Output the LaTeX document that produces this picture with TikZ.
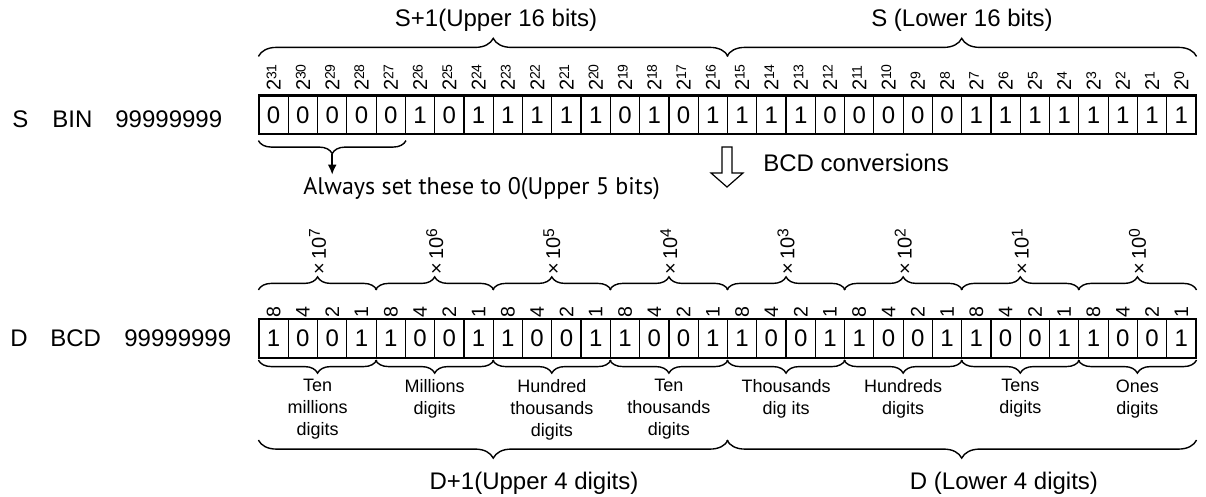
\documentclass[tikz,border=0pt]{standalone}
\usepackage{fontspec}
\setmainfont{Liberation Sans}
\newfontfamily\altfont{PT Sans}
\usetikzlibrary{decorations.pathreplacing,arrows.meta,calc}
\newcommand\myexp[3]{\raisebox{#2}{\fontsize{#3}{8}\selectfont #1}}
\begin{document}
\begin{tikzpicture}[x=0.5pt,y=-0.5pt,
  cell/.style={draw,line width=0.6pt,minimum width=14.64pt,minimum height=19pt,inner sep=0pt,font=\fontsize{12}{14}\selectfont},
  explbl/.style={rotate=90,anchor=west,inner sep=0pt,font=\fontsize{10}{10}\selectfont},
  wlbl/.style={rotate=90,anchor=west,inner sep=0pt,font=\fontsize{9.8}{10}\selectfont},
  pwr/.style={rotate=90,anchor=west,inner sep=0pt,font=\fontsize{10}{10}\selectfont},
  grp/.style={anchor=north,inner sep=0pt,align=center,font=\fontsize{9}{11}\selectfont},
  big/.style={inner sep=0pt,font=\fontsize{12}{14}\selectfont},
  bigbrace/.style={decorate,decoration={brace,amplitude=9pt},line width=0.7pt},
  smallbrace/.style={decorate,decoration={brace,amplitude=6.5pt},line width=0.7pt},
  mirrorbrace/.style={decorate,decoration={brace,amplitude=6.5pt,mirror},line width=0.7pt},
  bigmirror/.style={decorate,decoration={brace,amplitude=9pt,mirror},line width=0.7pt},
  frame/.style={draw,line width=0.9pt}
]
\useasboundingbox (0,0) rectangle (1206,497);

% ---------- S row ----------
\node[big,anchor=base west] (sS) at (12,128) {S};
\node[big,anchor=base west] (sBIN) at (52,128) {BIN};
\node[big,anchor=base west] (sNum) at (115,128) {99999999};

\foreach \b [count=\i from 0] in {0,0,0,0,0,1,0,1,1,1,1,1,0,1,0,1,1,1,1,0,0,0,0,0,1,1,1,1,1,1,1,1} {
  \node[cell] (t\i) at ({259+29.28*(\i+0.5)},115) {\b};
  \pgfmathtruncatemacro\n{31-\i}
  \node[explbl] (e\i) at ([yshift=2pt]t\i.north) {2\myexp{\n}{2.2pt}{7}};
}
\draw[frame] (t0.north west) rectangle (t31.south east);

\draw[bigbrace] ([yshift=19.5pt]t0.north west) -- ([yshift=19.5pt]t15.north east);
\draw[bigbrace] ([yshift=19.5pt]t16.north west) -- ([yshift=19.5pt]t31.north east);
\node[big] (upS) at (496,20) {S+1(Upper 16 bits)};
\node[big] (loS) at (962,20) {S (Lower 16 bits)};

% upper 5 bits
\draw[mirrorbrace] ([yshift=-3pt]t0.south west) -- ([yshift=-3pt]t4.south east);
\coordinate (ztip) at ([yshift=-9.5pt]$(t0.south west)!0.5!(t4.south east)$);
\coordinate (zend) at ([yshift=-20pt]$(t0.south west)!0.5!(t4.south east)$);
\draw[-{Latex[length=5pt,width=4.5pt]},line width=0.8pt] (ztip) -- (zend);
\node[inner sep=0pt,anchor=base west,font=\altfont\fontsize{12}{14}\selectfont] (zero) at (303,195) {Always set these to 0(Upper 5 bits)};

% BCD conversion arrow
\draw[line width=0.6pt,fill=white] (722,147) -- (732,147) -- (732,173) -- (743,173) -- (727,187) -- (711,173) -- (722,173) -- cycle;
\node[big,anchor=base west] (conv) at (763,172) {BCD conversions};

% ---------- D row ----------
\node[big,anchor=base west] (dD) at (10,347) {D};
\node[big,anchor=base west] (dBCD) at (50,347) {BCD};
\node[big,anchor=base west] (dNum) at (124,347) {99999999};

\foreach \b/\w [count=\i from 0] in {1/8,0/4,0/2,1/1,1/8,0/4,0/2,1/1,1/8,0/4,0/2,1/1,1/8,0/4,0/2,1/1,1/8,0/4,0/2,1/1,1/8,0/4,0/2,1/1,1/8,0/4,0/2,1/1,1/8,0/4,0/2,1/1} {
  \node[cell] (b\i) at ({259+29.28*(\i+0.5)},338.5) {\b};
  \node[wlbl] (w\i) at ([yshift=0.5pt]b\i.north) {\w};
}
\draw[frame] (b0.north west) rectangle (b31.south east);

\foreach \g/\p/\lab in {0/7/{Ten\\millions\\digits},1/6/{Millions\\digits},2/5/{Hundred\\thousands\\digits},3/4/{Ten\\thousands\\digits},4/3/{Thousands\\dig its},5/2/{Hundreds\\digits},6/1/{Tens\\digits},7/0/{Ones\\digits}} {
  \pgfmathtruncatemacro\s{4*\g}
  \pgfmathtruncatemacro\e{4*\g+3}
  \draw[smallbrace] ([yshift=14.5pt]b\s.north west) -- ([yshift=14.5pt]b\e.north east);
  \node[pwr] (x\g) at ([yshift=22pt]$(b\s.north west)!0.5!(b\e.north east)$) {\texttimes\,10\myexp{\p}{3pt}{7.8}};
  \draw[mirrorbrace] ([yshift=-1pt]b\s.south west) -- ([yshift=-1pt]b\e.south east);
  \node[grp] (l\g) at ([yshift=-10.5pt]$(b\s.south west)!0.5!(b\e.south east)$) {\lab};
}

\draw[bigmirror] ([yshift=-41pt]b0.south west) -- ([yshift=-41pt]b15.south east);
\draw[bigmirror] ([yshift=-41pt]b16.south west) -- ([yshift=-41pt]b31.south east);
\node[big] (upD) at (534,483) {D+1(Upper 4 digits)};
\node[big] (loD) at (1004,483) {D (Lower 4 digits)};
\end{tikzpicture}
\end{document}
